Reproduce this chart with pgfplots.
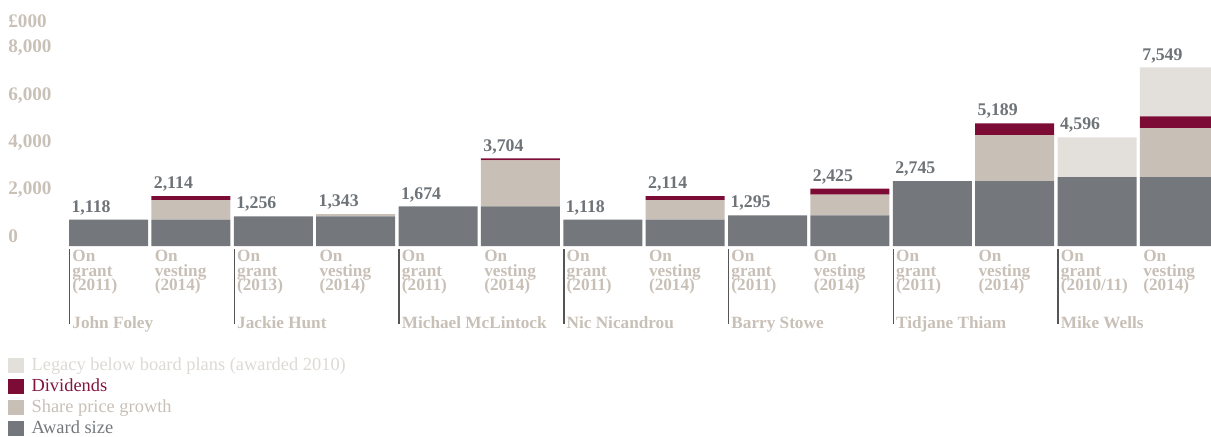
\documentclass[border=0pt]{standalone}
\usepackage{fontspec}
\setmainfont{Liberation Serif}
\usepackage{pgfplots}
\pgfplotsset{compat=1.18}
\usepackage{pgfplotstable}

\definecolor{awardc}{HTML}{74787C}
\definecolor{sharec}{HTML}{C8C0B7}
\definecolor{divc}{HTML}{7C0C36}
\definecolor{legacyc}{HTML}{E3DFDA}
\definecolor{valc}{HTML}{6E7378}
\definecolor{tickc}{HTML}{C9C1B8}
\definecolor{xlabc}{HTML}{C8C0B7}
\definecolor{sepc}{HTML}{555555}
\definecolor{legtxt}{HTML}{DDD9D4}
\definecolor{divtxt}{HTML}{82143E}

\pgfplotstableread{
x award share div legacy total
0 1118 0 0 0 1118
1 1118 827 169 0 2114
2 1256 0 0 0 1256
3 1256 87 0 0 1343
4 1674 0 0 0 1674
5 1674 1947 83 0 3704
6 1118 0 0 0 1118
7 1118 827 169 0 2114
8 1295 0 0 0 1295
9 1295 880 250 0 2425
10 2745 0 0 0 2745
11 2745 1939 505 0 5189
12 2911 0 0 1685 4596
13 2911 2069 505 2064 7549
}\data

\pgfplotsset{
  sq/.style={legend image code/.code={\fill[##1] (0pt,-3.75pt) rectangle (8pt,3.75pt);}},
  frame/.style={at={(4pt,95pt)}, anchor=south west,
    scale only axis, width=601.5pt, height=123pt,
    xmin=-1.22, xmax=13.383, ymin=0, ymax=10402, clip=false,
    /pgf/number format/1000 sep={,},
    /pgf/number format/assume math mode=true}
}

\begin{document}
\lineskiplimit=-100pt
\begin{tikzpicture}
\path[use as bounding box] (0,0) rectangle (605.5pt,218pt);
\begin{axis}[
  frame,
  ybar stacked, bar width=0.959,
  axis line style={draw=none}, tick style={draw=none}, major tick length=0pt,
  xtick={0,...,13},
  xticklabels={
    {On\\grant\\(2011)\\[11.75pt]John Foley},{On\\vesting\\(2014)},
    {On\\grant\\(2013)\\[11.75pt]Jackie Hunt},{On\\vesting\\(2014)},
    {On\\grant\\(2011)\\[11.75pt]Michael McLintock},{On\\vesting\\(2014)},
    {On\\grant\\(2011)\\[11.75pt]Nic Nicandrou},{On\\vesting\\(2014)},
    {On\\grant\\(2011)\\[11.75pt]Barry Stowe},{On\\vesting\\(2014)},
    {On\\grant\\(2011)\\[11.75pt]Tidjane Thiam},{On\\vesting\\(2014)},
    {On\\grant\\(2010/11)\\[11.75pt]Mike Wells},{On\\vesting\\(2014)}},
  xticklabel style={anchor=north west, align=left, inner sep=0pt, xshift=-18.25pt, yshift=-2pt,
    font=\bfseries\fontsize{8.6}{7.25}\selectfont, text=xlabc},
  ytick={0,2000,4000,6000,8000},
  scaled y ticks=false,
  yticklabel style={anchor=base west, inner sep=0pt, yshift=2pt,
    font=\bfseries\fontsize{9.6}{9.6}\selectfont, text=tickc},
  reverse legend,
  legend cell align=left,
  legend style={at={(axis description cs:0,-0.452)}, anchor=north west, draw=none, fill=none,
    inner sep=0pt, outer sep=0pt, row sep=2pt, column sep=3.8pt,
    font=\fontsize{9.2}{9.2}\selectfont,
    nodes={inner sep=0pt, text height=6.5pt, text depth=2pt}},
]
\addplot[fill=awardc, draw=none, sq] table[x=x, y=award] {\data};
\addlegendentry{\textcolor{awardc}{Award size}}
\addplot[fill=sharec, draw=none, sq] table[x=x, y=share] {\data};
\addlegendentry{\textcolor{sharec}{Share price growth}}
\addplot[fill=divc, draw=none, sq] table[x=x, y=div] {\data};
\addlegendentry{\textcolor{divtxt}{Dividends}}
\addplot[fill=legacyc, draw=none, sq] table[x=x, y=legacy] {\data};
\addlegendentry{\textcolor{legtxt}{Legacy below board plans (awarded 2010)}}
\node[anchor=base west, inner sep=0pt, font=\bfseries\fontsize{9.6}{9.6}\selectfont, text=tickc]
  at (axis cs:-1.22,9234) {£000};
\pgfplotsinvokeforeach{-0.473,1.527,3.527,5.527,7.527,9.527,11.527}{
  \draw[sepc, line width=0.75pt] ([yshift=-1.5pt]axis cs:#1,0) -- ([yshift=-39pt]axis cs:#1,0);
}
\end{axis}
\begin{axis}[frame, hide axis]
\addplot[draw=none, mark=none, nodes near coords, point meta=y,
  nodes near coords style={anchor=south, text width=37pt, align=left, inner sep=0pt,
    text depth=0pt, yshift=3.5pt, font=\bfseries\fontsize{8.9}{8.9}\selectfont, text=valc}]
  table[x=x, y=total] {\data};
\end{axis}
\end{tikzpicture}
\end{document}
